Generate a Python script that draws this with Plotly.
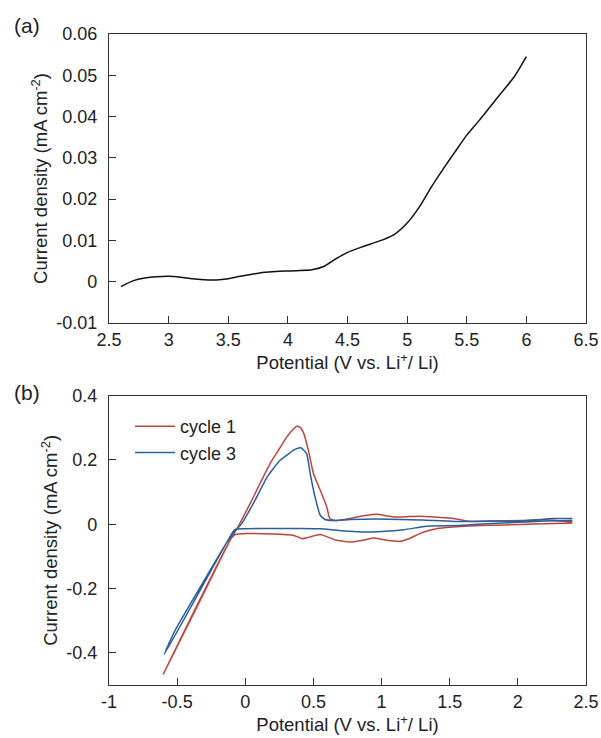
import plotly.graph_objects as go

# (a) linear sweep: potential (V) and current density (mA cm^-2)
lsv_potential = [2.6, 2.7, 2.8, 2.9, 3.0, 3.1, 3.2, 3.3, 3.4, 3.5, 3.6, 3.7, 3.8, 3.9,
                 4.0, 4.1, 4.2, 4.3, 4.4, 4.5, 4.6, 4.7, 4.8, 4.9, 5.0, 5.1, 5.2, 5.3,
                 5.4, 5.5, 5.6, 5.7, 5.8, 5.9, 6.0]
lsv_current = [-0.0012, 0.0002, 0.0009, 0.0012, 0.0013, 0.0011, 0.0007, 0.0005, 0.0004,
               0.0007, 0.0013, 0.0018, 0.0023, 0.0025, 0.0026, 0.0027, 0.0029, 0.0037,
               0.0055, 0.0071, 0.0082, 0.0092, 0.0102, 0.0116, 0.0142, 0.0180, 0.0228,
               0.0272, 0.0314, 0.0355, 0.0389, 0.0425, 0.0461, 0.0497, 0.0545]

# (b) cyclic voltammetry, cycle 1 (cathodic sweep from 2.4 V, then anodic back)
cycle1_potential = [2.40, 2.20, 2.02, 1.80, 1.65, 1.50, 1.41, 1.34, 1.28, 1.20, 1.14, 1.04,
                    0.94, 0.86, 0.79, 0.67, 0.55, 0.47, 0.42, 0.35, 0.20, 0.00, -0.07, -0.10,
                    -0.60,
                    -0.35, -0.10, -0.06, 0.035, 0.10, 0.182, 0.25, 0.305, 0.35, 0.378, 0.40,
                    0.427, 0.463, 0.50, 0.55, 0.598, 0.62, 0.66, 0.72, 0.794, 0.88, 0.966,
                    1.09, 1.20, 1.28, 1.40, 1.53, 1.65, 1.80, 2.02, 2.20, 2.40]
cycle1_current = [0.004, 0.002, -0.001, -0.003, -0.005, -0.009, -0.013, -0.020, -0.029,
                  -0.045, -0.053, -0.050, -0.043, -0.050, -0.055, -0.050, -0.032, -0.040,
                  -0.045, -0.034, -0.030, -0.029, -0.031, -0.042,
                  -0.465,
                  -0.253, -0.040, -0.013, 0.064, 0.120, 0.189, 0.235, 0.272, 0.295, 0.305,
                  0.302, 0.285, 0.230, 0.158, 0.106, 0.054, 0.018, 0.012, 0.014, 0.020,
                  0.027, 0.031, 0.023, 0.024, 0.025, 0.022, 0.018, 0.009, 0.010, 0.012,
                  0.014, 0.007]

# (b) cyclic voltammetry, cycle 3
cycle3_potential = [2.40, 2.20, 2.00, 1.77, 1.55, 1.33, 1.16, 0.92, 0.70, 0.55, 0.40, 0.20,
                    0.00, -0.075, -0.10,
                    -0.595,
                    -0.515, -0.295, -0.148, -0.08, -0.026, 0.072, 0.160, 0.255, 0.305,
                    0.36, 0.407, 0.45, 0.476, 0.512, 0.55, 0.586, 0.65, 0.77, 1.04, 1.30,
                    1.53, 1.80, 2.02, 2.26, 2.40]
cycle3_current = [0.012, 0.010, 0.006, 0.002, -0.004, -0.006, -0.017, -0.024, -0.020,
                  -0.014, -0.013, -0.013, -0.014, -0.016, -0.030,
                  -0.405,
                  -0.330, -0.170, -0.065, -0.024, 0.002, 0.075, 0.147, 0.199, 0.215,
                  0.232, 0.238, 0.220, 0.158, 0.085, 0.028, 0.015, 0.012, 0.015, 0.016,
                  0.013, 0.009, 0.010, 0.010, 0.018, 0.018]

# tick positions and their printed labels (hyphen used as the minus sign)
ya_ticks = [-0.01, 0.0, 0.01, 0.02, 0.03, 0.04, 0.05, 0.06]
ya_labels = ["-0.01", "0", "0.01", "0.02", "0.03", "0.04", "0.05", "0.06"]
xa_ticks = [2.5, 3.0, 3.5, 4.0, 4.5, 5.0, 5.5, 6.0, 6.5]
xa_labels = ["2.5", "3", "3.5", "4", "4.5", "5", "5.5", "6", "6.5"]
yb_ticks = [-0.4, -0.2, 0.0, 0.2, 0.4]
yb_labels = ["-0.4", "-0.2", "0", "0.2", "0.4"]
xb_ticks = [-1.0, -0.5, 0.0, 0.5, 1.0, 1.5, 2.0, 2.5]
xb_labels = ["-1", "-0.5", "0", "0.5", "1", "1.5", "2", "2.5"]

FONT = "Liberation Sans, Arial, sans-serif"
TEXT_COLOR = "#222222"
AXIS_COLOR = "#333333"
RED = "#c0443a"
BLUE = "#2a5f9e"

fig = go.Figure()

fig.add_trace(go.Scatter(x=lsv_potential, y=lsv_current, mode="lines",
                         line=dict(color="#111111", width=1.5, shape="spline", smoothing=0.6),
                         showlegend=False, xaxis="x", yaxis="y"))
fig.add_trace(go.Scatter(x=cycle1_potential, y=cycle1_current, mode="lines", name="cycle 1",
                         line=dict(color=RED, width=1.5, shape="spline", smoothing=0.5),
                         xaxis="x2", yaxis="y2"))
fig.add_trace(go.Scatter(x=cycle3_potential, y=cycle3_current, mode="lines", name="cycle 3",
                         line=dict(color=BLUE, width=1.5, shape="spline", smoothing=0.5),
                         xaxis="x2", yaxis="y2"))

W, H = 601, 738


def axis_common():
    return dict(showline=True, linecolor=AXIS_COLOR, linewidth=1.2, mirror=True,
                ticks="inside", ticklen=7, tickwidth=1.2, tickcolor=AXIS_COLOR,
                showgrid=False, zeroline=False, automargin=False,
                tickfont=dict(family=FONT, size=18, color=TEXT_COLOR),
                title_font=dict(family=FONT, size=18.5, color=TEXT_COLOR))


xdom = [109 / W, 586 / W]
ya_dom = [1 - 323 / H, 1 - 34 / H]
yb_dom = [1 - 685 / H, 1 - 395.7 / H]

x_title = "Potential (V vs. Li<sup>+</sup>/ Li)"
y_title = "Current density (mA cm<sup>-2</sup>)"

fig.update_layout(
    width=W, height=H,
    margin=dict(l=0, r=0, t=0, b=0, autoexpand=False),
    paper_bgcolor="white", plot_bgcolor="white",
    font=dict(family=FONT, size=18, color=TEXT_COLOR),
    xaxis=dict(domain=xdom, anchor="y", range=[2.5, 6.5],
               tickvals=xa_ticks, ticktext=xa_labels,
               title=dict(text=x_title, standoff=6), **axis_common()),
    yaxis=dict(domain=ya_dom, anchor="x", range=[-0.01, 0.06],
               tickvals=ya_ticks, ticktext=ya_labels, ticklabelstandoff=7,
               title=dict(text=y_title, standoff=3), **axis_common()),
    xaxis2=dict(domain=xdom, anchor="y2", range=[-1, 2.5],
                tickvals=xb_ticks, ticktext=xb_labels,
                title=dict(text=x_title, standoff=6), **axis_common()),
    yaxis2=dict(domain=yb_dom, anchor="x2", range=[-0.5, 0.4],
                tickvals=yb_ticks, ticktext=yb_labels, ticklabelstandoff=7,
                title=dict(text=y_title, standoff=3), **axis_common()),
    legend=dict(x=130 / W, y=1 - 408 / H, xanchor="left", yanchor="top",
                bgcolor="rgba(0,0,0,0)", font=dict(family=FONT, size=18, color=TEXT_COLOR),
                itemwidth=40),
    annotations=[
        dict(text="(a)", x=12 / W, y=1 - 26 / H, xref="paper", yref="paper",
             xanchor="left", yanchor="middle", showarrow=False,
             font=dict(family=FONT, size=21, color=TEXT_COLOR)),
        dict(text="(b)", x=12 / W, y=1 - 392 / H, xref="paper", yref="paper",
             xanchor="left", yanchor="middle", showarrow=False,
             font=dict(family=FONT, size=21, color=TEXT_COLOR)),
    ],
)

fig.write_html("out.html")
